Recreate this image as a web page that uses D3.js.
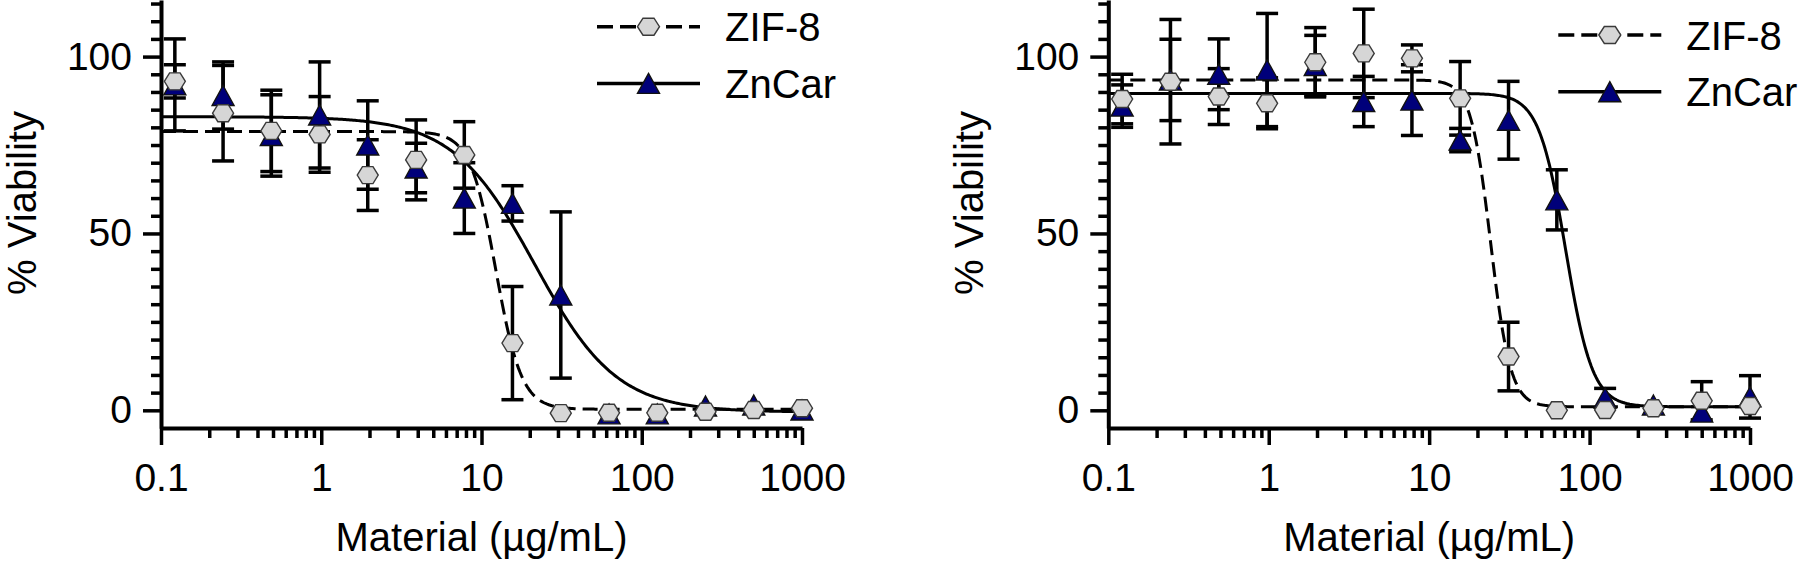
<!DOCTYPE html>
<html>
<head>
<meta charset="utf-8">
<script src="https://cdn.jsdelivr.net/npm/d3@7"></script>
<style>
  body { margin: 0; background: #fff; }
  text { font-family: Arial, "Liberation Sans", sans-serif; fill: #000; }
</style>
</head>
<body>
<script>
const w = 1800;
const h = 563;

// concentrations (two-fold dilution from 1000 ug/mL)
const conc = [0.122, 0.244, 0.488, 0.977, 1.95, 3.91, 7.81, 15.6, 31.25, 62.5, 125, 250, 500, 1000];

// left panel
const zifMeanA = [93, 84, 79, 78, 66.5, 70.8, 72.2, 19, -0.8, -0.7, -0.7, -0.4, 0.1, 0.6];
const zifSdA = [4.7, 13.5, 11.5, 10.7, 10, 11.3, 9.4, 16, 0, 0, 0, 0, 0, 0];
const zncMeanA = [92, 89, 77.7, 83.5, 75, 68.5, 60, 58.5, 32.6, -1, -1, 1.2, 1.5, 0.1];
const zncSdA = [13, 9.5, 11.5, 15, 12.5, 7, 10, 5, 23.5, 0, 0, 0, 0, 0];

// right panel
const zifMeanB = [88, 92.9, 88.7, 86.8, 98.4, 100.9, 99.5, 88.2, 15.2, 0, 0.1, 0.6, 2.7, 1.2];
const zifSdB = [7, 17.6, 7.9, 7.2, 9.8, 12.5, 3.8, 10.4, 9.7, 0, 0, 0, 5.4, 0];
const zncMeanB = [86, 93.4, 95, 96.2, 97.5, 87.3, 87.7, 76.4, 82, 59.5, 3.5, 1.5, -0.5, 3.8];
const zncSdB = [6, 11.5, 10, 16, 8.5, 7.1, 10, 3.3, 11, 8.5, 2.7, 0, 0, 6];

// 4PL fit parameters: top, bottom, IC50, Hill slope
const zifFitA = [78.8, 0.3, 12.3, 5.4];
const zncFitA = [83, -0.5, 21.5, 1.7];
const zifFitB = [93.4, 1, 24.2, 7];
const zncFitB = [89.6, 1, 71, 5.2];

const xTicks = [0.1, 1, 10, 100, 1000];
const yTicks = [0, 50, 100];
const seriesNames = ["ZIF-8", "ZnCar"];

const svg = d3.select("body").append("svg").attr("width", w).attr("height", h);

const hexPath = (r, hh) =>
  `M${-r},0L${-r / 2},${-hh}L${r / 2},${-hh}L${r},0L${r / 2},${hh}L${-r / 2},${hh}Z`;
const triPath = (tw, th) => `M0,${-th / 2}L${tw / 2},${th / 2}L${-tw / 2},${th / 2}Z`;

function logistic(p, c) {
  return p[1] + (p[0] - p[1]) / (1 + Math.pow(c / p[2], p[3]));
}

function drawMarker(g, kind, cx, cy, big) {
  if (kind === 0) {
    g.append("path")
      .attr("d", big ? hexPath(11, 8.5) : hexPath(10.5, 8.5))
      .attr("transform", `translate(${cx},${cy})`)
      .attr("fill", "#d6d6d6")
      .attr("stroke", "#3a3a3a")
      .attr("stroke-width", 1.4);
  } else {
    g.append("path")
      .attr("d", triPath(22, 20))
      .attr("transform", `translate(${cx},${cy})`)
      .attr("fill", "#00007a")
      .attr("stroke", "#111")
      .attr("stroke-width", 1.4);
  }
}

function drawPanel(cfg) {
  const x = d3.scaleLog().domain([0.1, 1000]).range([cfg.x0, cfg.x1]);
  const y = d3.scaleLinear().domain([-5, 116]).range([428, 0]);
  const g = svg.append("g");

  // y axis
  const yMinor = d3.range(5, 116, 5).filter((v) => v % 50 !== 0);
  g.append("g")
    .attr("transform", `translate(${cfg.x0},0)`)
    .call(d3.axisLeft(y).tickValues(yMinor).tickSize(10).tickFormat("").tickSizeOuter(0))
    .call((a) => a.select(".domain").remove());
  const ya = g.append("g")
    .attr("transform", `translate(${cfg.x0},0)`)
    .call(d3.axisLeft(y).tickValues(yTicks).tickSize(18).tickPadding(11).tickSizeOuter(0));
  ya.selectAll("text").attr("font-size", 39).attr("font-family", null);

  // x axis
  const xMinor = [];
  xTicks.slice(0, -1).forEach((d) => {
    for (let k = 2; k < 10; k++) xMinor.push(d * k);
  });
  g.append("g")
    .attr("transform", `translate(0,428)`)
    .call(d3.axisBottom(x).tickValues(xMinor).tickSize(10).tickFormat("").tickSizeOuter(0))
    .call((a) => a.select(".domain").remove());
  const xa = g.append("g")
    .attr("transform", `translate(0,428)`)
    .call(d3.axisBottom(x).tickValues(xTicks).tickSize(17).tickPadding(18).tickSizeOuter(0)
      .tickFormat((d) => String(d)));
  xa.selectAll("text").attr("font-size", 39).attr("font-family", null);

  g.selectAll(".domain").attr("stroke", "#000").attr("stroke-width", 4);
  g.selectAll(".tick line").attr("stroke", "#000").attr("stroke-width", 3.5);

  // titles
  g.append("text")
    .attr("transform", `translate(${cfg.x0 - 125},203) rotate(-90)`)
    .attr("text-anchor", "middle")
    .attr("font-size", 40)
    .text("% Viability");
  g.append("text")
    .attr("x", (cfg.x0 + cfg.x1) / 2)
    .attr("y", 551)
    .attr("text-anchor", "middle")
    .attr("font-size", 40)
    .text("Material (µg/mL)");

  const series = [
    { mean: cfg.zifMean, sd: cfg.zifSd, fit: cfg.zifFit, kind: 0 },
    { mean: cfg.zncMean, sd: cfg.zncSd, fit: cfg.zncFit, kind: 1 },
  ];

  // error bars
  const eb = g.append("g").attr("stroke", "#000").attr("stroke-width", 3.5);
  series.forEach((s) => {
    conc.forEach((c, i) => {
      if (!s.sd[i]) return;
      const cx = x(c);
      const lo = y(s.mean[i] - s.sd[i]);
      const hi = y(s.mean[i] + s.sd[i]);
      eb.append("line").attr("x1", cx).attr("x2", cx).attr("y1", lo).attr("y2", hi);
      eb.append("line").attr("x1", cx - 11).attr("x2", cx + 11).attr("y1", lo).attr("y2", lo);
      eb.append("line").attr("x1", cx - 11).attr("x2", cx + 11).attr("y1", hi).attr("y2", hi);
    });
  });

  // fitted curves
  const xs = d3.range(0, 401).map((i) => Math.pow(10, -1 + (4 * i) / 400));
  const line = d3.line().x((d) => x(d[0])).y((d) => y(d[1]));
  series.forEach((s) => {
    g.append("path")
      .datum(xs.map((c) => [c, logistic(s.fit, c)]))
      .attr("d", line)
      .attr("fill", "none")
      .attr("stroke", "#000")
      .attr("stroke-width", 3)
      .attr("stroke-dasharray", s.kind === 0 ? "15,7" : null);
  });

  // markers: triangles under hexagons
  [series[1], series[0]].forEach((s) => {
    conc.forEach((c, i) => drawMarker(g, s.kind, x(c), y(s.mean[i]), false));
  });

  // legend
  const lg = g.append("g");
  seriesNames.forEach((name, i) => {
    const ly = cfg.legY + i * 56.7;
    lg.append("line")
      .attr("x1", cfg.legX).attr("x2", cfg.legX + 103)
      .attr("y1", ly).attr("y2", ly)
      .attr("stroke", "#000").attr("stroke-width", 3.5)
      .attr("stroke-dasharray", i === 0 ? "16,7" : null);
    drawMarker(lg, i, cfg.legX + 51.5, ly, true);
    lg.append("text")
      .attr("x", cfg.legX + 128)
      .attr("y", ly + 14.5)
      .attr("font-size", 40)
      .text(name);
  });
}

drawPanel({
  x0: 161, x1: 802, legX: 597, legY: 26.7,
  zifMean: zifMeanA, zifSd: zifSdA, zncMean: zncMeanA, zncSd: zncSdA,
  zifFit: zifFitA, zncFit: zncFitA,
});
drawPanel({
  x0: 1108.3, x1: 1750, legX: 1558.3, legY: 35,
  zifMean: zifMeanB, zifSd: zifSdB, zncMean: zncMeanB, zncSd: zncSdB,
  zifFit: zifFitB, zncFit: zncFitB,
});
</script>
</body>
</html>
